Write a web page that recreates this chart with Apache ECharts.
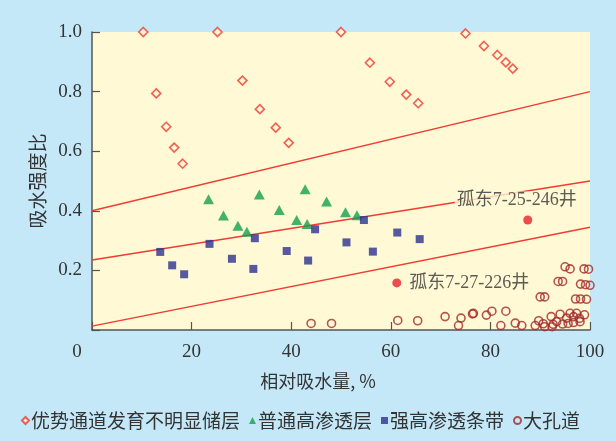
<!DOCTYPE html>
<html>
<head>
<meta charset="utf-8">
<script src="https://cdn.jsdelivr.net/npm/echarts@6/dist/echarts.min.js"></script>
<style>
html,body{margin:0;padding:0;background:#c5e8f8;}
#c{width:616px;height:441px;}
</style>
</head>
<body>
<div id="c"></div>
<script>
// ---- data ----
var xTicks = [0, 20, 40, 60, 80, 100];
var yTicks = [0, 0.2, 0.4, 0.6, 0.8, 1.0];
var seriesNames = ['优势通道发育不明显储层', '普通高渗透层', '强高渗透条带', '大孔道'];

var diamondPts = [
  [10.3,1.0],[25.2,1.0],[50.0,1.0],[12.9,0.794],[30.2,0.837],[33.7,0.741],
  [14.9,0.682],[36.9,0.679],[16.5,0.612],[39.5,0.628],[18.2,0.558],
  [55.8,0.897],[59.8,0.833],[63.1,0.790],[65.5,0.761],
  [75.0,0.995],[78.7,0.953],[81.4,0.923],[83.1,0.898],[84.5,0.877]
];
var trianglePts = [
  [23.4,0.439],[26.4,0.384],[29.3,0.350],[31.1,0.330],[33.6,0.455],
  [37.6,0.403],[42.8,0.472],[41.1,0.369],[43.2,0.356],[47.1,0.431],
  [50.9,0.395],[53.2,0.385]
];
var squarePts = [
  [13.7,0.262],[16.1,0.217],[18.5,0.187],[23.6,0.289],[28.1,0.239],
  [32.7,0.308],[32.4,0.205],[39.1,0.265],[43.4,0.233],[44.8,0.338],
  [51.1,0.294],[56.4,0.263],[54.6,0.369],[61.3,0.327],[65.8,0.305]
];
var circlePts = [
  [44.0,0.022],[48.1,0.022],[61.4,0.032],[65.4,0.031],[70.9,0.045],
  [74.1,0.040],[73.6,0.015],[76.4,0.054],[76.6,0.056],[79.2,0.050],
  [80.3,0.063],[83.1,0.063],[82.1,0.015],[85.0,0.023],[86.3,0.015],
  [89.0,0.015],[89.7,0.031],[90.6,0.021],[90.9,0.011],[92.2,0.045],
  [92.6,0.019],[92.4,0.011],[94.0,0.053],[93.3,0.028],[94.5,0.020],
  [95.3,0.040],[96.0,0.056],[96.7,0.045],[97.3,0.056],[97.9,0.039],
  [98.9,0.051],[95.6,0.022],[96.7,0.025],[98.0,0.028],
  [95.0,0.212],[96.0,0.205],[98.8,0.205],[99.7,0.204],
  [93.6,0.163],[94.5,0.163],[98.1,0.154],[99.1,0.152],[100,0.150],
  [90.0,0.111],[90.9,0.111],[97.1,0.104],[98.1,0.104],[99.3,0.103]
];
var line1 = [[0,0.40],[100,0.80]];
var line2 = [[0,0.235],[100,0.50]];
var line3 = [[0,0.013],[100,0.345]];
var wellNames = ['孤东7-25-246井', '孤东7-27-226井'];
var wellPts = [[87.5,0.369],[61.2,0.158]];

// ---- chart ----
var serif = '"Liberation Serif", "Noto Sans CJK SC", serif';
var cjk = '"Noto Sans CJK SC", sans-serif';
var txt = '#333333';
var lineColor = '#f03c32';

function lineSeries(d){
  return {type:'line', data:d, symbol:'none', silent:true, z:2,
    lineStyle:{color:lineColor, width:1.4}};
}

var chart = echarts.init(document.getElementById('c'));
chart.setOption({
  backgroundColor:'#c5e8f8',
  animation:false,
  grid:{left:92, right:26, top:32, bottom:111, show:true, backgroundColor:'#fff9d5', borderWidth:0},
  xAxis:{
    type:'value', min:xTicks[0], max:xTicks[xTicks.length-1], interval:20,
    name:'相对吸水量, %', nameLocation:'middle', nameGap:42,
    nameTextStyle:{fontFamily:cjk, fontSize:18, color:txt, padding:[0,46,0,0]},
    axisLine:{lineStyle:{color:'#555', width:1.5}},
    axisTick:{inside:true, length:8, lineStyle:{color:'#555', width:1.2}},
    splitLine:{show:false},
    axisLabel:{margin:13, fontFamily:serif, fontSize:19, color:txt,
      formatter:function(v){ return v===0 ? '{z|0}' : String(v); },
      rich:{z:{fontFamily:serif, fontSize:19, color:txt, padding:[0,30,0,0]}}}
  },
  yAxis:{
    type:'value', min:yTicks[0], max:yTicks[yTicks.length-1], interval:0.2,
    name:'吸水强度比', nameLocation:'middle', nameGap:45, nameRotate:90,
    nameTextStyle:{fontFamily:cjk, fontSize:19, color:txt},
    axisLine:{show:true, lineStyle:{color:'#555', width:1.5}},
    axisTick:{show:true, inside:true, length:8, lineStyle:{color:'#555', width:1.2}},
    splitLine:{show:false},
    axisLabel:{margin:10, fontFamily:serif, fontSize:19, color:txt,
      formatter:function(v){ return v===0 ? '' : v.toFixed(1); }}
  },
  legend:{
    data:seriesNames, left:16, top:406, itemWidth:7, itemHeight:7, itemGap:9,
    textStyle:{fontFamily:cjk, fontSize:19, color:txt, padding:[0,0,0,-3]}
  },
  series:[
    lineSeries(line1), lineSeries(line2), lineSeries(line3),
    {name:seriesNames[0], type:'scatter', data:diamondPts, symbol:'diamond', symbolSize:[9,9], z:3,
      itemStyle:{color:'#fff9d5', borderColor:'#ee3a33', borderWidth:1.6}},
    {name:seriesNames[1], type:'scatter', data:trianglePts, symbol:'triangle', symbolSize:[11,10], z:3,
      itemStyle:{color:'#12a04c'}},
    {name:seriesNames[2], type:'scatter', data:squarePts, symbol:'rect', symbolSize:8, z:3,
      itemStyle:{color:'#2c3190'}},
    {name:seriesNames[3], type:'scatter', data:circlePts, symbol:'circle', symbolSize:8, z:3,
      itemStyle:{color:'rgba(0,0,0,0)', borderColor:'#a3292c', borderWidth:1.6}},
    {type:'scatter', symbol:'circle', symbolSize:9, z:4,
      itemStyle:{color:'#e8202a'},
      data:[
        {value:wellPts[0], label:{show:true, formatter:wellNames[0], position:'top', distance:6, offset:[-11,0],
          fontFamily:serif, fontSize:18, color:txt, backgroundColor:'#fff9d5', padding:[0,2], lineHeight:18}},
        {value:wellPts[1], label:{show:true, formatter:wellNames[1], position:'right', distance:8,
          fontFamily:serif, fontSize:18, color:txt}}
      ]}
  ]
});
</script>
</body>
</html>
